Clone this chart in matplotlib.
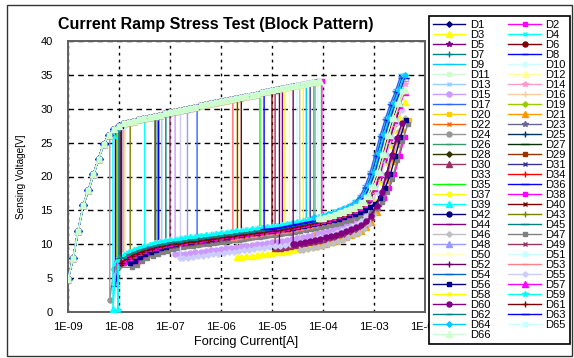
import numpy as np
import matplotlib
matplotlib.use('Agg')
import matplotlib.pyplot as plt
from matplotlib.patches import Rectangle

plt.rcParams['font.family'] = ['Liberation Sans', 'DejaVu Sans']

# current ramp: 10 steps per decade, 1E-09 .. ~4E-03
mantissa = [1.0, 1.26, 1.58, 2.0, 2.51, 3.16, 3.98, 5.01, 6.31, 7.94]
decades = [-9, -8, -7, -6, -5, -4]
current = [m * 10.0**d for d in decades for m in mantissa] + [m * 1e-3 for m in mantissa[:7]]

# voltage before snapback (trigger ramp + high branch), 1E-09 .. 1E-04
v_top = [4.8, 8.0, 12.0, 15.8, 18.0, 20.3, 22.6, 24.8, 26.1, 27.0,
         27.5, 27.85, 28.05, 28.25, 28.45, 28.6, 28.8, 28.95, 29.1, 29.3,
         29.5, 29.65, 29.8, 30.0, 30.15, 30.3, 30.5, 30.65, 30.8, 30.95,
         31.1, 31.25, 31.4, 31.6, 31.75, 31.9, 32.05, 32.2, 32.4, 32.55,
         32.7, 32.85, 33.0, 33.2, 33.35, 33.5, 33.65, 33.8, 34.0, 34.1,
         34.3]

# voltage after snapback, from current[9] (7.9E-09) to the end
LOW_START = 9
v_low = [7.2, 7.6, 8.1, 8.6, 8.9, 9.2, 9.45, 9.65, 9.85, 10.0,
         10.15, 10.3, 10.4, 10.5, 10.6, 10.7, 10.8, 10.9, 11.0, 11.1,
         11.2, 11.3, 11.4, 11.5, 11.6, 11.7, 11.8, 11.9, 12.0, 12.1,
         12.2, 12.3, 12.4, 12.5, 12.65, 12.8, 12.95, 13.1, 13.25, 13.4,
         13.6, 13.8, 14.0, 14.25, 14.5, 14.8, 15.1, 15.5, 16.0, 16.8,
         18.3, 20.3, 23.0, 25.8, 28.3, 30.5, 32.4, 34.6]

names = ['D1', 'D2', 'D3', 'D4', 'D5', 'D6', 'D7', 'D8', 'D9', 'D10',
         'D11', 'D12', 'D13', 'D14', 'D15', 'D16', 'D17', 'D19', 'D20', 'D21',
         'D22', 'D23', 'D24', 'D25', 'D26', 'D27', 'D28', 'D29', 'D30', 'D31',
         'D33', 'D34', 'D35', 'D36', 'D37', 'D38', 'D39', 'D40', 'D42', 'D43',
         'D44', 'D45', 'D46', 'D47', 'D48', 'D49', 'D50', 'D51', 'D52', 'D53',
         'D54', 'D55', 'D56', 'D57', 'D58', 'D59', 'D60', 'D61', 'D62', 'D63',
         'D64', 'D65', 'D66']

# breakdown current of each device [A]
breakdown = [1.0e-8, 9.5e-5, 2.1e-6, 3.2e-8, 1.6e-5, 2.5e-6, 1.1e-8, 6.0e-8, 4.7e-5, 3.1e-5,
             1.2e-8, 2.2e-5, 6.9e-8, 1.7e-6, 1.26e-7, 1.3e-8, 3.4e-7, 9.0e-9, 1.0e-8, 7.0e-5,
             1.1e-8, 1.2e-8, 6.6e-9, 1.0e-8, 5.6e-8, 1.05e-8, 5.1e-8, 2.1e-6, 1.15e-5, 5.6e-5,
             1.1e-8, 1.2e-8, 5.8e-6, 8.5e-9, 1.8e-5, 1.0e-8, 7.6e-9, 1.0e-5, 1.1e-8, 1.66e-8,
             1.2e-8, 8.3e-8, 3.5e-5, 9.5e-9, 2.2e-7, 1.0e-7, 1.1e-8, 1.2e-8, 1.4e-5, 1.7e-6,
             1.0e-8, 1.6e-7, 1.1e-8, 1.0e-8, 4.1e-5, 9.5e-9, 2.6e-5, 1.1e-8, 1.0e-8, 7.0e-6,
             6.6e-5, 7.9e-5, 8.9e-5]
# lowest voltage right at snapback (0 = lands on the low branch)
drop_to = [0] * 22 + [1.8] + [0] * 10 + [3.8, 0, 0, 0.5] + [0] * 18 + [0.3] + [0] * 7
# offset of the low branch [V]
low_offset = [0.0, 0.2, -3.6, 0.3, -0.5, 0.0, 0.0, 0.0, 0.5, 0.3,
              0.3, 0.0, 0.4, -1.0, -2.0, -0.5, 0.2, 0.0, 0.0, -3.5,
              -0.3, -0.5, -0.8, 0.0, -0.2, -0.3, -0.4, -0.5, -2.8, 0.0,
              0.0, -0.3, 0.0, 0.0, 0.0, 0.0, 0.2, -0.5, 0.0, -0.6,
              -0.5, 0.0, -3.8, -0.6, 0.0, -0.5, 0.0, 0.3, -2.5, -0.8,
              0.0, -2.6, 0.0, 0.0, 0.0, 0.3, -2.6, -0.3, -0.1, 0.0,
              0.4, 0.2, 0.3]
# shift of the low branch along current [decades]
high_shift = [0.0, 0.05, 0.0, 0.05, 0.1, 0.1, -0.05, 0.0, -0.05, 0.0,
              0.05, 0.1, -0.05, 0.0, 0.0, 0.1, -0.08, 0.05, 0.38, 0.15,
              0.1, 0.05, 0.0, 0.0, 0.05, 0.0, 0.05, 0.1, 0.15, 0.0,
              0.0, 0.05, 0.0, 0.0, 0.05, 0.4, 0.05, 0.05, 0.05, 0.0,
              0.1, 0.0, 0.1, 0.36, 0.0, 0.05, 0.0, 0.0, 0.15, 0.05,
              -0.05, 0.05, 0.32, 0.1, 0.05, 0.0, 0.15, 0.05, 0.0, 0.0,
              0.0, 0.05, 0.1]
# last forced current of each device [A]
stop = [4.0e-3, 4.0e-3, 4.0e-3, 3.5e-3, 3.5e-3, 3.2e-3, 3.5e-3, 3.5e-3, 4.0e-3, 4.0e-3,
        3.5e-3, 3.5e-3, 4.0e-3, 4.0e-3, 3.5e-3, 3.0e-3, 4.0e-3, 3.5e-3, 5.0e-3, 4.0e-3,
        3.5e-3, 3.5e-3, 3.5e-3, 4.0e-3, 3.5e-3, 3.5e-3, 3.5e-3, 3.5e-3, 3.5e-3, 4.0e-3,
        4.0e-3, 3.5e-3, 4.0e-3, 4.0e-3, 4.0e-3, 5.0e-3, 4.0e-3, 3.5e-3, 3.5e-3, 3.5e-3,
        3.5e-3, 3.5e-3, 4.0e-3, 5.0e-3, 4.0e-3, 3.5e-3, 4.0e-3, 4.0e-3, 3.5e-3, 3.5e-3,
        4.0e-3, 4.0e-3, 5.0e-3, 4.0e-3, 4.0e-3, 4.0e-3, 4.0e-3, 3.5e-3, 3.5e-3, 4.0e-3,
        4.0e-3, 4.0e-3, 4.0e-3]

colors = ['#000080', '#FF00FF', '#FFFF00', '#00FFFF', '#800080', '#800000', '#008080', '#0000FF', '#00CCFF', '#CCFFFF',
          '#CCFFCC', '#FFFF99', '#99CCFF', '#FF99CC', '#CC99FF', '#FFCC99', '#3366FF', '#99CC00', '#FFCC00', '#FF9900',
          '#FF6600', '#666699', '#969696', '#003366', '#339966', '#003300', '#333300', '#993300', '#993366', '#333399',
          '#FFFFFF', '#FF0000', '#00FF00', '#0000FF', '#FFFF00', '#FF00FF', '#00FFFF', '#800000', '#000080', '#808000',
          '#800080', '#008080', '#C0C0C0', '#808080', '#9999FF', '#993366', '#FFFFCC', '#CCFFFF', '#660066', '#FF8080',
          '#0066CC', '#CCCCFF', '#000080', '#FF00FF', '#FFFF00', '#00FFFF', '#800080', '#800000', '#008080', '#0000FF',
          '#00CCFF', '#CCFFFF', '#CCFFCC']

# excel auto markers: diamond, square, triangle, x, star, circle, plus, short dash, long dash
marker_cycle = [('D', 2.8), ('s', 3.4), ('^', 3.8), ('x', 3.4), ('*', 4.4), ('o', 3.6), ('+', 4.0), ('_', 4.0), ('_', 6.0)]

fig = plt.figure(figsize=(5.74, 3.58), dpi=100)
ax = fig.add_axes([68/574, 1-312/358, 357/574, 271/358])

handles = []
for k, name in enumerate(names):
    bk = breakdown[k]
    xs, ys = [], []
    for I, v in zip(current, v_top):
        if I <= bk:
            xs.append(I)
            ys.append(v)
    low = []
    for I, v in zip(current[LOW_START:], v_low):
        Ish = I * 10**high_shift[k]
        if bk < Ish <= stop[k]:
            low.append((Ish, v + low_offset[k]))
    xs.append(bk)
    ys.append(ys[-1])
    xs.append(bk)
    ys.append(drop_to[k] if drop_to[k] else low[0][1])
    for I, v in low:
        xs.append(I)
        ys.append(v)
    n = int(name[1:])
    mk, ms = marker_cycle[(n - 1) % 9]
    h, = ax.plot(xs, ys, color=colors[k], lw=1.0, marker=mk, markersize=ms,
                 markeredgewidth=1.0, label=name, zorder=3)
    handles.append(h)

ax.set_xscale('log')
ax.set_xlim(1e-9, 1e-2)
ax.set_ylim(0, 40)
xt = [1e-9, 1e-8, 1e-7, 1e-6, 1e-5, 1e-4, 1e-3, 1e-2]
ax.set_xticks(xt)
ax.set_xticklabels(['1E-09', '1E-08', '1E-07', '1E-06', '1E-05', '1E-04', '1E-03', '1E-02'])
ax.minorticks_off()
ax.set_yticks(range(0, 41, 5))
ax.tick_params(axis='x', length=0, pad=7, labelsize=8)
ax.tick_params(axis='y', length=0, pad=11, labelsize=8)
for s in ax.spines.values():
    s.set_color('#606060')
    s.set_linewidth(1.4)
ax.grid(axis='x', color='black', linestyle=(0, (2, 3)), lw=1.0)
ax.grid(axis='y', color='black', linestyle=(0, (4, 3)), lw=1.0)
ax.set_axisbelow(True)

ax.set_xlabel('Forcing Current[A]', fontsize=9.2, labelpad=3)
ax.set_ylabel('Sensing Voltage[V]', fontsize=7.2, labelpad=10)
fig.text(216/574, 1-25/358, 'Current Ramp Stress Test (Block Pattern)',
         fontsize=11.5, fontweight='bold', ha='center', va='center')

# excel fills the legend row by row: D1 D2 / D3 D4 ...
leg_handles = handles[0::2] + handles[1::2]
leg = fig.legend(handles=leg_handles, ncol=2, loc='upper left',
                 bbox_to_anchor=(429/574, 1-16/358), borderaxespad=0,
                 fontsize=8, labelspacing=0.0, handlelength=2.9,
                 handletextpad=0.45, columnspacing=1.6, borderpad=0.35,
                 numpoints=1, fancybox=False, framealpha=1)
leg.get_frame().set_edgecolor('black')
leg.get_frame().set_linewidth(1.2)

fig.add_artist(Rectangle((7/574, 2/358), 565/574, 351/358, transform=fig.transFigure,
                         fill=False, edgecolor='#333333', lw=1.0, zorder=0))

fig.savefig('out.png', dpi=100)
